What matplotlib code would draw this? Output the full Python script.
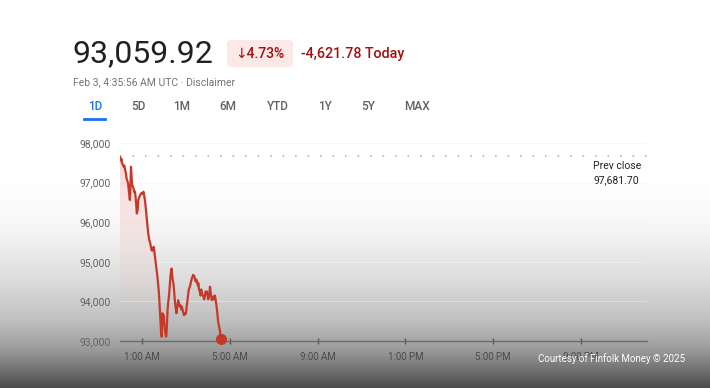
import numpy as np
import matplotlib
matplotlib.use("Agg")
import matplotlib.pyplot as plt
from matplotlib.patches import Polygon, FancyBboxPatch

plt.rcParams['font.family'] = ['Roboto', 'DejaVu Sans']

# minutes after midnight UTC, Feb 3
minutes = [0, 2, 4, 6, 8, 10, 12, 14, 16, 18,
           20, 22, 24, 26, 27, 28, 29, 30, 31, 33,
           35, 37, 39, 41, 43, 45, 46, 48, 50, 52,
           55, 58, 61, 64, 66, 68, 70, 72, 74, 77,
           80, 83, 86, 88, 90, 92, 94, 96, 98, 100,
           102, 104, 106, 108, 110, 112, 113, 114, 115, 116,
           117, 118, 119, 121, 123, 125, 126, 127, 128, 129,
           130, 132, 134, 136, 138, 140, 141, 142, 144, 146,
           148, 150, 152, 154, 155, 157, 159, 161, 163, 165,
           167, 169, 171, 173, 175, 177, 179, 180, 182, 184,
           186, 188, 191, 194, 197, 200, 203, 205, 207, 209,
           211, 213, 214, 216, 218, 220, 222, 224, 226, 228,
           230, 232, 234, 236, 237, 239, 241, 243, 245, 246,
           248, 250, 251, 253, 255, 257, 259, 260, 262, 264,
           266, 268, 270, 272, 273, 274, 275, 276]
prices = [97640, 97560, 97600, 97480, 97450, 97400, 97430, 97320, 97250, 97100,
          97050, 96980, 96800, 96650, 96560, 96750, 97100, 97400, 97250, 96950,
          96900, 96850, 96760, 96770, 96600, 96350, 96220, 96300, 96560, 96620,
          96680, 96730, 96720, 96770, 96680, 96560, 96400, 96200, 96000, 95720,
          95550, 95450, 95300, 95280, 95340, 95380, 95250, 95100, 94960, 94800,
          94650, 94460, 94250, 93950, 93600, 93250, 93150, 93110, 93400, 93700,
          93600, 93500, 93650, 93450, 93250, 93150, 93110, 93180, 93400, 93600,
          93780, 94000, 94150, 94400, 94650, 94800, 94830, 94700, 94550, 94460,
          94250, 94000, 93850, 93700, 93750, 93900, 94030, 93950, 93880, 93900,
          93800, 93870, 93780, 93720, 93650, 93700, 93680, 93700, 93850, 94000,
          94150, 94300, 94370, 94500, 94600, 94670, 94640, 94560, 94500, 94550,
          94460, 94400, 94460, 94300, 94250, 94150, 94300, 94200, 94150, 94120,
          94050, 94150, 94250, 94200, 94250, 94150, 94050, 94100, 94300, 94370,
          94200, 94100, 94030, 94100, 94120, 94050, 94150, 94120, 94000, 93870,
          93700, 93500, 93400, 93300, 93280, 93150, 93080, 93060]

prev_close = 97681.70
y_ticks = [93000, 94000, 95000, 96000, 97000, 98000]
x_ticks = [1, 5, 9, 13, 17, 21]
x_labels = ['1:00 AM', '5:00 AM', '9:00 AM', '1:00 PM', '5:00 PM', '9:00 PM']
tabs = ['1D', '5D', '1M', '6M', 'YTD', '1Y', '5Y', 'MAX']
tab_x = [95, 138, 182, 228, 278, 325, 368, 417]

W, H = 710, 388
RED = '#c5392b'


def px(x, y):
    return x / W, 1 - y / H


fig = plt.figure(figsize=(W / 100, H / 100), dpi=100)

# background: white fading to dark grey at the bottom
bg = fig.add_axes([0, 0, 1, 1], zorder=0)
rows = np.arange(H)
shade = np.interp(rows, [0, 180, 230, 280, 320, 350, 388],
                  [1.0, 1.0, 0.96, 0.86, 0.75, 0.60, 0.29])
bg.imshow(np.repeat(shade[:, None], 4, axis=1), cmap='gray', vmin=0, vmax=1,
          aspect='auto', extent=[0, 1, 0, 1])
bg.set_axis_off()

ax = fig.add_axes([120 / W, 47 / H, 527 / W, (341 - 143) / H], zorder=1)
ax.patch.set_alpha(0)

hours = np.array(minutes) / 60
vals = np.array(prices)

# gradient fill under the line
grad = np.zeros((100, 2, 4))
grad[..., 0] = 0.88
grad[..., 1] = 0.35
grad[..., 2] = 0.30
alpha = np.linspace(1, 0, 100) ** 1.6 * 0.24
grad[..., 3] = alpha[:, None]
im = ax.imshow(grad, extent=[0, 24, 93000, 97700], aspect='auto', origin='upper', zorder=1)
verts = np.column_stack([np.r_[hours, hours[-1], hours[0]],
                         np.r_[vals, 93000, 93000]])
clip = Polygon(verts, closed=True, transform=ax.transData, facecolor='none', edgecolor='none')
ax.add_patch(clip)
im.set_clip_path(clip)

ax.plot(hours, vals, color=RED, lw=1.6, zorder=3, solid_joinstyle='round')
ax.plot(hours[-1], vals[-1], 'o', color=RED, ms=7, zorder=4, clip_on=False)

ax.axhline(prev_close, color='#b5b5b5', lw=1.2, ls=(0, (1, 6.5)), zorder=2)

ax.set_xlim(0, 24)
ax.set_ylim(93000, 98000)
ax.set_yticks(y_ticks)
ax.set_yticklabels([f'{v:,}' for v in y_ticks])
ax.set_xticks(x_ticks)
ax.set_xticklabels(x_labels)
ax.yaxis.grid(True, color='#f2f2f2', lw=0.8, alpha=0.5)
ax.set_axisbelow(True)
for s in ['top', 'right', 'left']:
    ax.spines[s].set_visible(False)
ax.spines['bottom'].set_color('#6a6a6a')
ax.spines['bottom'].set_linewidth(1)
ax.tick_params(axis='y', length=0, pad=7, labelsize=7.5, labelcolor='#5f6368')
ax.tick_params(axis='x', length=4, width=1, color='#555555', direction='inout',
               pad=6, labelsize=7, labelcolor='#4a4a4a')

# header
fig.text(*px(72, 54), '93,059.92', fontsize=23, color='#202124', va='center')
badge = FancyBboxPatch(px(227, 67), 66 / W, 27 / H,
                       boxstyle='round,pad=0,rounding_size=0.008',
                       transform=fig.transFigure, facecolor='#fce8e6', edgecolor='none')
fig.add_artist(badge)
fig.text(*px(260, 54), '↓4.73%', fontsize=10, color='#a50e0e', ha='center', va='center',
         fontweight='medium')
fig.text(*px(301, 54), '-4,621.78 Today', fontsize=10.3, color='#a50e0e', va='center',
         fontweight='medium')
fig.text(*px(73, 82), 'Feb 3, 4:35:56 AM UTC · Disclaimer', fontsize=7.5,
         color='#70757a', va='center')

for lab, x in zip(tabs, tab_x):
    fig.text(*px(x, 107), lab, fontsize=8.5, color='#1a73e8' if lab == '1D' else '#5f6368',
             ha='center', va='center', fontweight='medium')
fig.add_artist(plt.Line2D([84 / W, 105 / W], [1 - 119 / H] * 2, color='#1a73e8', lw=2,
                          transform=fig.transFigure))

fig.text(*px(593, 166), 'Prev close', fontsize=7.5, color='#202124', va='center')
fig.text(*px(593, 180), f'{prev_close:,.2f}', fontsize=7.5, color='#202124', va='center')

fig.text(*px(685, 359), 'Courtesy of Finfolk Money © 2025', fontsize=7, color='white',
         ha='right', va='center', zorder=5)

fig.savefig('out.png', dpi=100)
